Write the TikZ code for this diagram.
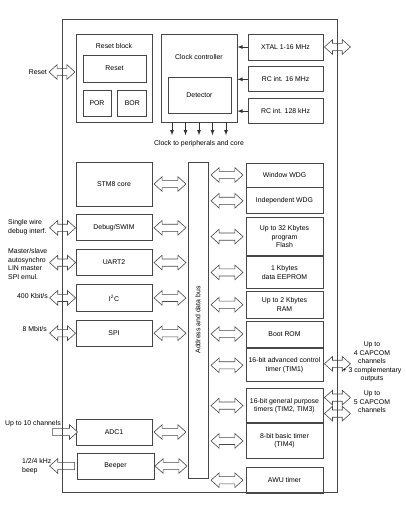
\documentclass[tikz,border=0pt]{standalone}
\usepackage{fontspec}
\setmainfont{Liberation Sans}
\usepackage{tikz}
\usetikzlibrary{shapes,arrows,positioning,calc}

\begin{document}
\begin{tikzpicture}[x=1pt, y=-1pt]
  \tikzset{align=center,font=\fontsize{6.9}{8.6}\selectfont}
  \tikzset{blk/.style = {shape=rectangle,draw=black!72,line width=0.8pt,inner sep=1pt}}
  \tikzset{lbox/.style = {blk,minimum width=76pt,minimum height=26pt}}
  \tikzset{rbox/.style = {blk,minimum width=77pt,minimum height=26pt}}
  \tikzset{lbl/.style = {inner sep=0pt}}
  \tikzset{dbl/.style = {shape=double arrow,draw=black!72,fill=white,line width=0.6pt,inner xsep=0pt,inner ysep=3.3pt,
      double arrow head extend=3.7pt,double arrow tip angle=84,minimum height=32pt}}
  \tikzset{ext/.style = {dbl,minimum height=26pt}}
  \tikzset{sgl/.style = {shape=single arrow,draw=black!72,fill=white,line width=0.6pt,inner xsep=0pt,inner ysep=3.3pt,
      single arrow head extend=3.7pt,single arrow tip angle=84,minimum height=25pt}}
  \tikzset{edge/.style = {draw=black!80,line width=0.8pt,-latex}}

  \useasboundingbox (0,0) rectangle (405,514);

  \node[blk,minimum width=76pt,minimum height=88pt] (rstblk) at (114,78) {};
  \node (rsttitle) at (114,46) {Reset block};
  \node[blk,minimum width=63pt,minimum height=27pt] (rst) at (114.5,68.5) {Reset};
  \node[blk,minimum width=28pt,minimum height=26pt] (por) at (97,103) {POR};
  \node[blk,minimum width=29pt,minimum height=26pt] (bor) [right=6pt of por] {BOR};

  \node[blk,minimum width=76pt,minimum height=88pt] (clk) at (199,78) {};
  \node (clktitle) at (199,57) {Clock controller};
  \node[blk,minimum width=63pt,minimum height=36pt] (det) at (199.5,95) {Detector};

  \node[blk,minimum width=75pt,minimum height=26pt] (xtal) at (285.5,47) {XTAL 1-16 MHz};
  \node[blk,minimum width=75pt,minimum height=25pt] (rc16) [below=6pt of xtal] {RC int. 16 MHz};
  \node[blk,minimum width=75pt,minimum height=25pt] (rc128) [below=6pt of rc16] {RC int. 128 kHz};
  \node (clkout) at (199,144) {Clock to peripherals and core};

  \node[blk,minimum width=20pt,minimum height=316pt] (bus) at (198,320) {};
  \node[rotate=90] (buslbl) at (bus.center) {Address and data bus};

  \node[lbox,minimum height=44pt] (core) at (114,184) {STM8 core};
  \node[lbox] (swim) [below=8pt of core] {Debug/SWIM};
  \node[lbox] (uart) [below=8pt of swim] {UART2};
  \node[lbox,minimum height=27pt] (i2c) [below=8pt of uart] {I\textsuperscript{2}C};
  \node[lbox] (spi) [below=8pt of i2c] {SPI};
  \node[lbox] (adc) at (114,432) {ADC1};
  \node[lbox,minimum width=77pt] (beep) at (115.5,466) {Beeper};

  \node[rbox,minimum height=24pt] (wwdg) at (284.5,175) {Window WDG};
  \node[rbox] (iwdg) [below=0pt of wwdg] {Independent WDG};
  \node[rbox,minimum height=38pt] (flash) [below=3pt of iwdg] {Up to 32 Kbytes\\program\\Flash};
  \node[rbox,minimum height=32pt] (eeprom) [below=0pt of flash] {1 Kbytes\\data EEPROM};
  \node[rbox,minimum height=27pt] (ram) [below=2pt of eeprom] {Up to 2 Kbytes\\RAM};
  \node[rbox] (boot) [below=2pt of ram] {Boot ROM};
  \node[rbox,minimum height=33pt] (tim1) [below=1pt of boot] {16-bit advanced control\\timer (TIM1)};
  \node[rbox,minimum height=34pt] (tim23) [below=6pt of tim1] {16-bit general purpose\\timers (TIM2, TIM3)};
  \node[rbox,minimum height=35pt] (tim4) [below=0pt of tim23] {8-bit basic timer\\(TIM4)};
  \node[rbox] (awu) [below=8pt of tim4] {AWU timer};

  \foreach \src in {xtal,rc16,rc128}
    \draw[edge] (\src.west) -- (clk.east |- \src.west);
  \foreach \dx in {-27,-13.5,0,13.5,27}
    \draw[edge,shorten >=2pt] ($(clk.south)+(\dx,0)$) -- ($(clkout.north)+(\dx,0)$);

  \foreach \n in {core,swim,uart,i2c,spi,adc,beep}
    \node[dbl] (l\n) at ($(\n.east)!0.5!(bus.west |- \n.east)$) {};
  \foreach \n in {wwdg,iwdg,flash,eeprom,ram,boot,tim1,tim23,tim4,awu}
    \node[dbl] (r\n) at ($(bus.east |- \n.west)!0.5!(\n.west)$) {};

  \node[ext] (xrst) at (62,72) {};
  \foreach \n in {swim,uart,i2c,spi}
    \node[ext] (x\n) at ([xshift=-13pt]\n.west) {};
  \node[sgl] (xadc) at ([xshift=-12.5pt]adc.west) {};
  \node[sgl,shape border rotate=180] (xbeep) at ([xshift=-12.5pt]beep.west) {};
  \node[ext] (xxtal) at ([xshift=14pt]xtal.east) {};
  \node[ext] (xtim1) at ($(tim1.east)+(14,-1.5)$) {};
  \node[ext] (xtim2) at ($(tim23.east)+(14,-8)$) {};
  \node[ext] (xtim3) at ($(tim23.east)+(14,8)$) {};

  \node[lbl,anchor=east] (lrst) at (47,72) {Reset};
  \node[lbl,anchor=west,align=left] (lswim) at (8,227) {Single wire\\debug interf.};
  \node[lbl,anchor=west,align=left] (luart) at (8,264) {Master/slave\\autosynchro\\LIN master\\SPI emul.};
  \node[lbl,anchor=east] (li2c) at (48,296) {400 Kbit/s};
  \node[lbl,anchor=east] (lspi) at (47,329) {8 Mbit/s};
  \node[lbl,anchor=west] (ladc) at (5,424) {Up to 10 channels};
  \node[lbl,anchor=west,align=left] (lbeep) at (22,466) {1/2/4 kHz\\beep};
  \node[lbl] (ltim1) at (372,362) {Up to\\4 CAPCOM\\channels\\+ 3 complementary\\outputs};
  \node[lbl] (ltim23) at (372,402) {Up to\\5 CAPCOM\\channels};

  \node[blk,minimum width=275pt,minimum height=473pt] (chip) at (199.5,255.5) {};
\end{tikzpicture}
\end{document}
